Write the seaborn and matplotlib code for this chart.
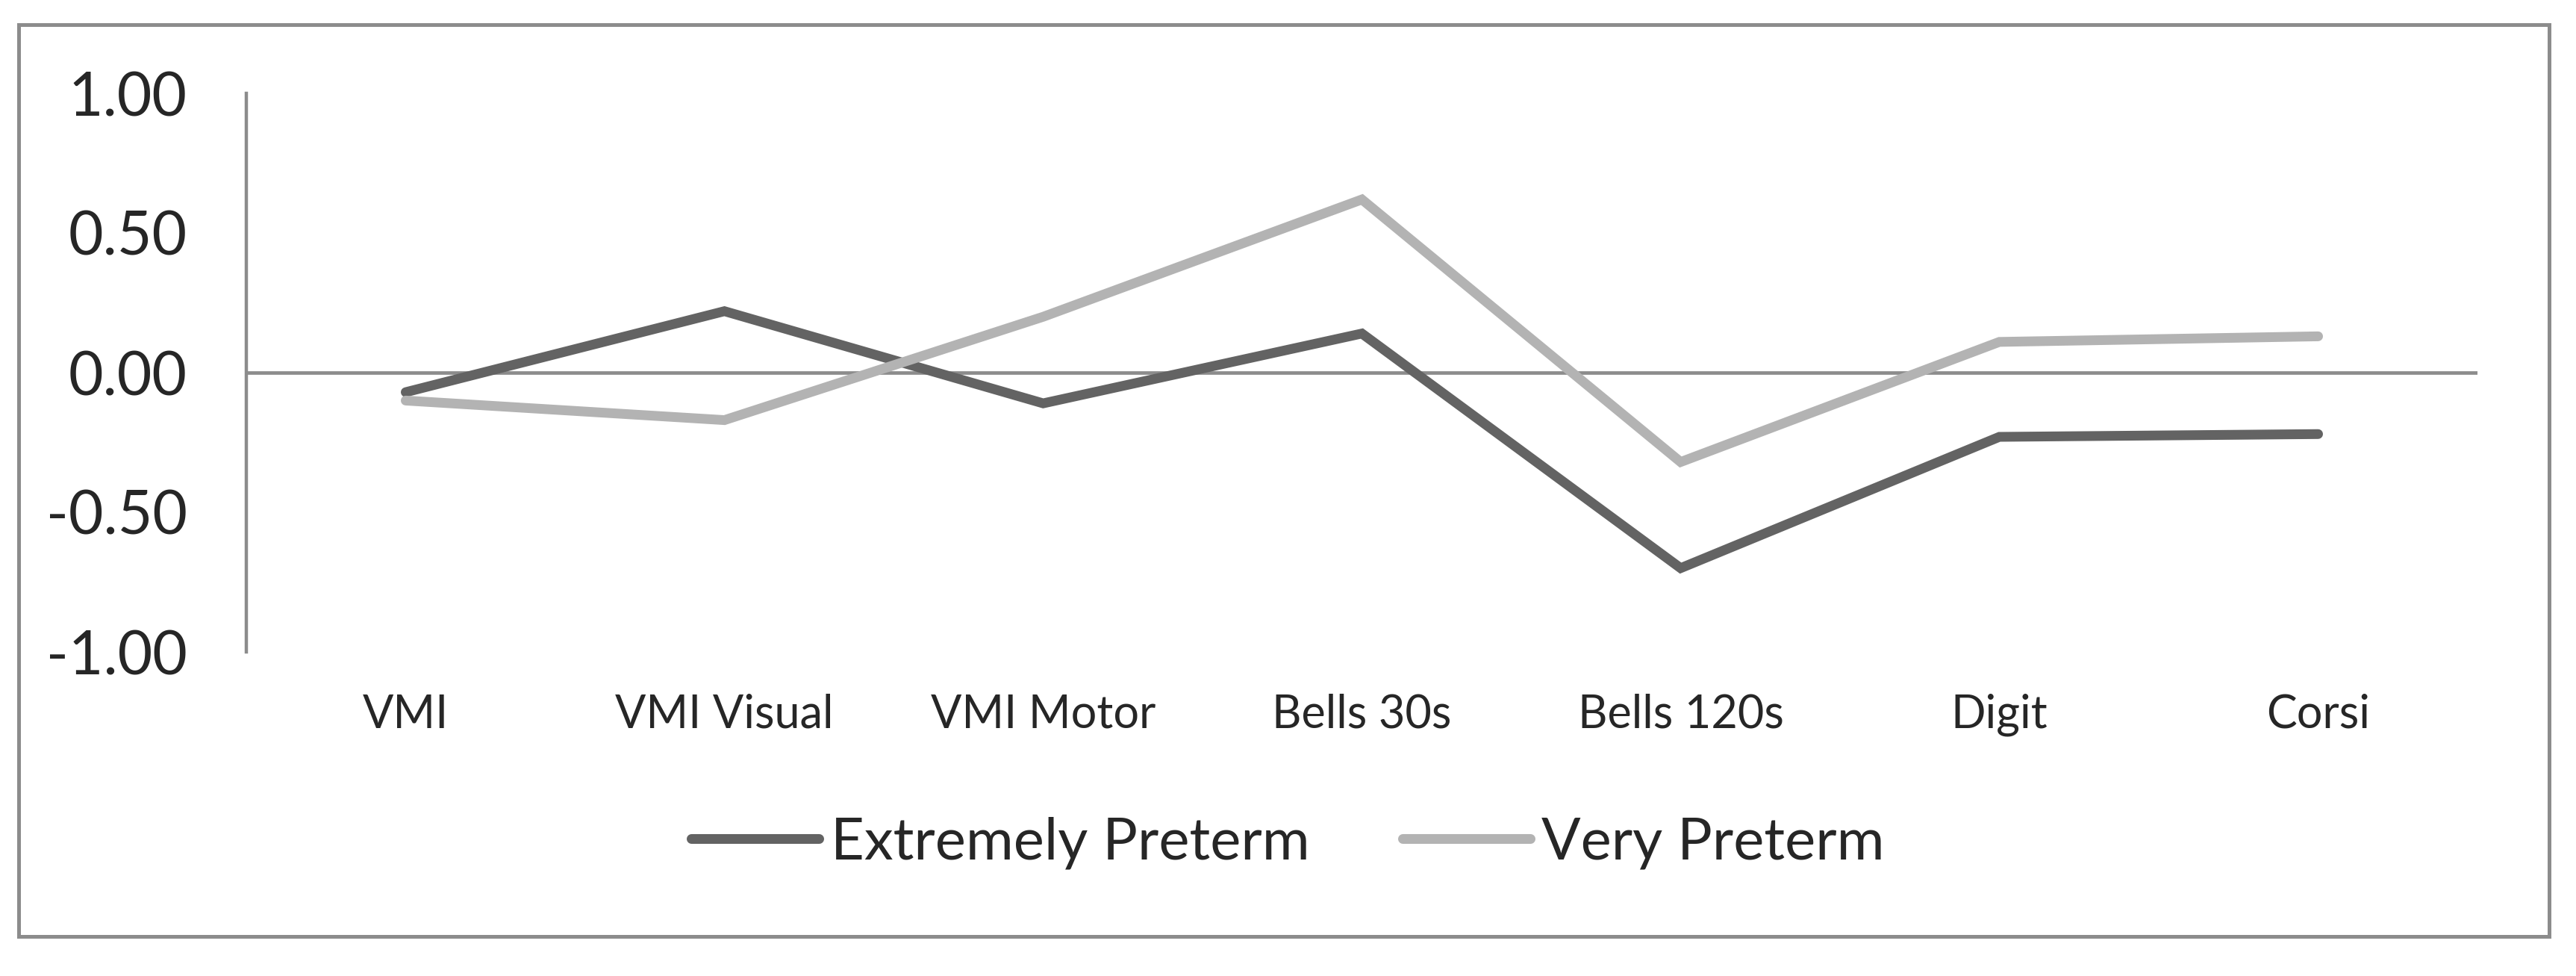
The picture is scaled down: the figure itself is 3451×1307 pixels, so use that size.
import pandas as pd
import seaborn as sns
import matplotlib.pyplot as plt
from matplotlib.patches import Rectangle

tests = ['VMI', 'VMI Visual', 'VMI Motor', 'Bells 30s', 'Bells 120s', 'Digit', 'Corsi']
extremely = [-0.07, 0.22, -0.11, 0.14, -0.70, -0.23, -0.22]
very = [-0.10, -0.17, 0.20, 0.62, -0.32, 0.11, 0.13]
groups = ['Extremely Preterm', 'Very Preterm']
y_ticks = [-1.0, -0.5, 0.0, 0.5, 1.0]

data = pd.DataFrame({
    'test': tests * 2,
    'z': extremely + very,
    'group': [groups[0]] * len(tests) + [groups[1]] * len(tests),
})

sns.set_style('white')
plt.rcParams['font.family'] = ['Lato', 'DejaVu Sans']
plt.rcParams['axes.unicode_minus'] = False

gray = '#8c8c8c'
fig = plt.figure(figsize=(34.51, 13.07), dpi=100)
ax = fig.add_axes([330 / 3451, 1 - 873 / 1307, (3319 - 330) / 3451, (873 - 125) / 1307])

sns.lineplot(data=data, x='test', y='z', hue='group', sort=False,
             palette=['#636363', '#b3b3b3'], linewidth=9.4, ax=ax,
             solid_capstyle='round', solid_joinstyle='miter')

ax.axhline(0, color=gray, linewidth=3.4, zorder=0)
ax.set_xlim(-0.5, len(tests) - 0.5)
ax.set_ylim(-1, 1)
ax.set_yticks(y_ticks)
ax.set_yticklabels(['%.2f' % v for v in y_ticks])
ax.set_xlabel('')
ax.set_ylabel('')
ax.tick_params(axis='y', length=0, pad=57, labelsize=58)
ax.tick_params(axis='x', length=0, pad=40, labelsize=44)

for side in ['top', 'right', 'bottom']:
    ax.spines[side].set_visible(False)
ax.spines['left'].set_color(gray)
ax.spines['left'].set_linewidth(3.2)

handles, labels = ax.get_legend_handles_labels()
ax.legend_.remove()
fig.legend(handles, labels, loc='center', bbox_to_anchor=(0.5, 1 - 1129 / 1307),
           ncol=2, frameon=False, fontsize=56, handlelength=2.2,
           handletextpad=0.2, columnspacing=1.6)

fig.patches.append(Rectangle((25 / 3451, 1 - 1254 / 1307), (3415 - 25) / 3451,
                             (1254 - 33) / 1307, transform=fig.transFigure,
                             fill=False, edgecolor=gray, linewidth=3.6))

fig.savefig('out.png', dpi=100, facecolor='white')
